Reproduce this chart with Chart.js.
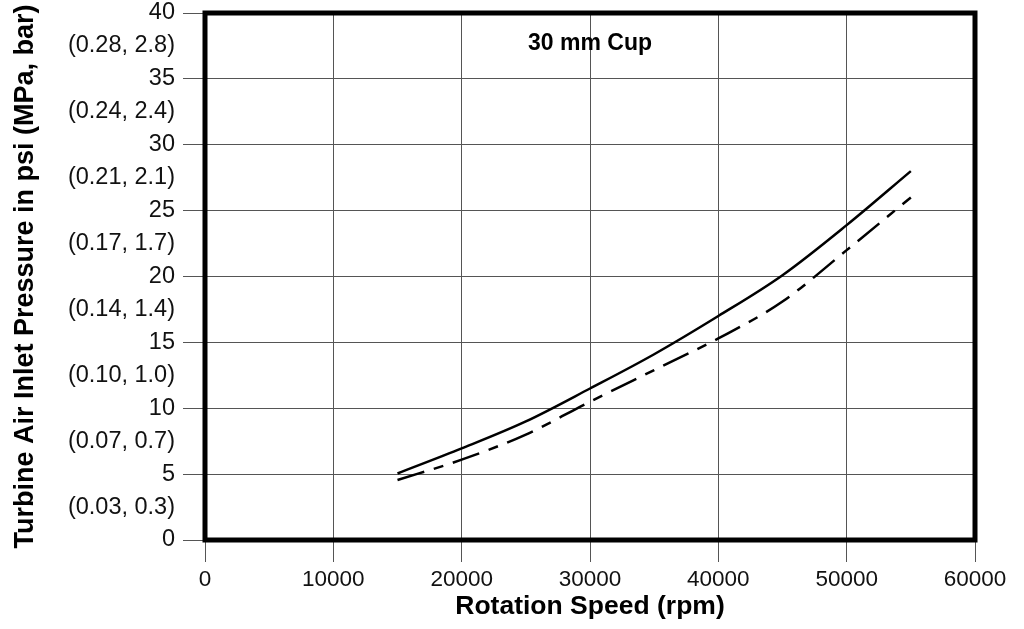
<!DOCTYPE html>
<html>
<head>
<meta charset="utf-8">
<script src="https://cdn.jsdelivr.net/npm/chart.js@4.4.1/dist/chart.umd.min.js"></script>
<style>
  html, body { margin: 0; padding: 0; background: #fff; }
  #wrap { width: 1024px; height: 629px; }
</style>
</head>
<body>
<div id="wrap"><canvas id="chartTurbine"></canvas></div>
<script>
// rotation speed (rpm) where the curves are read
const speedRpm = [15000, 20000, 25000, 30000, 35000, 40000, 45000, 50000, 55000];
// solid curve, psi
const pressureSolid = [5.05, 6.95, 9.0, 11.5, 14.1, 17.0, 20.1, 23.9, 28.0];
// dashed curve, psi
const pressureDashed = [4.55, 6.1, 8.0, 10.5, 12.9, 15.3, 18.1, 22.0, 26.0];

// y axis: psi ticks every 5, metric labels in between (MPa, bar)
const psiTicks = [0, 5, 10, 15, 20, 25, 30, 35, 40];
const metricLabels = ['(0.03, 0.3)', '(0.07, 0.7)', '(0.10, 1.0)', '(0.14, 1.4)',
                      '(0.17, 1.7)', '(0.21, 2.1)', '(0.24, 2.4)', '(0.28, 2.8)'];
const xTicks = [0, 10000, 20000, 30000, 40000, 50000, 60000];

const chartLabel = '30 mm Cup';

function toPoints(ys) {
    return speedRpm.map(function(x, i) { return { x: x, y: ys[i] }; });
}

function isMajor(v) {
    return psiTicks.indexOf(v) !== -1;
}

const frameAndLabel = {
    id: 'frameAndLabel',
    afterDatasetsDraw: function(chart) {
        const ctx = chart.ctx;
        const a = chart.chartArea;
        ctx.save();
        ctx.strokeStyle = '#000';
        ctx.lineWidth = 5;
        ctx.strokeRect(a.left, a.top, a.right - a.left, a.bottom - a.top);
        ctx.fillStyle = '#000';
        ctx.font = 'bold 23px "Liberation Sans", Arial, sans-serif';
        ctx.textAlign = 'center';
        ctx.textBaseline = 'middle';
        ctx.fillText(chartLabel, chart.scales.x.getPixelForValue(30000), chart.scales.y.getPixelForValue(37.7));
        ctx.restore();
    }
};

const fontFamily = '"Liberation Sans", Arial, sans-serif';

new Chart(document.getElementById('chartTurbine'), {
    type: 'line',
    data: {
        datasets: [
            {
                label: 'solid',
                data: toPoints(pressureSolid),
                borderColor: '#000',
                borderWidth: 2.5,
                pointRadius: 0,
                cubicInterpolationMode: 'monotone',
                fill: false
            },
            {
                label: 'dashed',
                data: toPoints(pressureDashed),
                borderColor: '#000',
                borderWidth: 2.5,
                borderDash: [28, 10, 10, 10],
                pointRadius: 0,
                cubicInterpolationMode: 'monotone',
                fill: false
            }
        ]
    },
    options: {
        responsive: true,
        maintainAspectRatio: false,
        animation: false,
        layout: { padding: { left: 0, right: 49, top: 13, bottom: 0 } },
        plugins: {
            legend: { display: false },
            tooltip: { enabled: false }
        },
        scales: {
            x: {
                type: 'linear',
                min: 0,
                max: 60000,
                afterBuildTicks: function(axis) {
                    axis.ticks = xTicks.map(function(v) { return { value: v }; });
                },
                afterFit: function(axis) { axis.height = 89; },
                grid: {
                    color: '#555',
                    lineWidth: 1,
                    tickLength: 22,
                    tickColor: '#555'
                },
                border: { display: false },
                ticks: {
                    color: '#111',
                    font: { family: fontFamily, size: 22.5 },
                    padding: 4,
                    maxRotation: 0,
                    callback: function(v) { return String(v); }
                },
                title: {
                    display: true,
                    text: 'Rotation Speed (rpm)',
                    color: '#000',
                    font: { family: fontFamily, size: 26.5, weight: 'bold' },
                    padding: { top: 0, bottom: 6 }
                }
            },
            y: {
                type: 'linear',
                min: 0,
                max: 40,
                afterFit: function(axis) {
                    axis.width = 205;
                    axis.paddingTop = 0;
                },
                grid: {
                    color: function(c) { return isMajor(c.tick.value) ? '#555' : 'rgba(0,0,0,0)'; },
                    lineWidth: 1,
                    tickLength: 22,
                    tickColor: function(c) { return isMajor(c.tick.value) ? '#555' : 'rgba(0,0,0,0)'; }
                },
                border: { display: false },
                ticks: {
                    stepSize: 2.5,
                    autoSkip: false,
                    color: '#111',
                    font: { family: fontFamily, size: 23.5 },
                    padding: 8,
                    callback: function(v) {
                        if (isMajor(v)) return String(v);
                        return metricLabels[Math.floor(v / 5)];
                    }
                },
                title: {
                    display: true,
                    text: 'Turbine Air Inlet Pressure in psi (MPa, bar)',
                    color: '#000',
                    font: { family: fontFamily, size: 27, weight: 'bold' },
                    padding: { top: 9, bottom: 0 }
                }
            }
        }
    },
    plugins: [frameAndLabel]
});
</script>
</body>
</html>
